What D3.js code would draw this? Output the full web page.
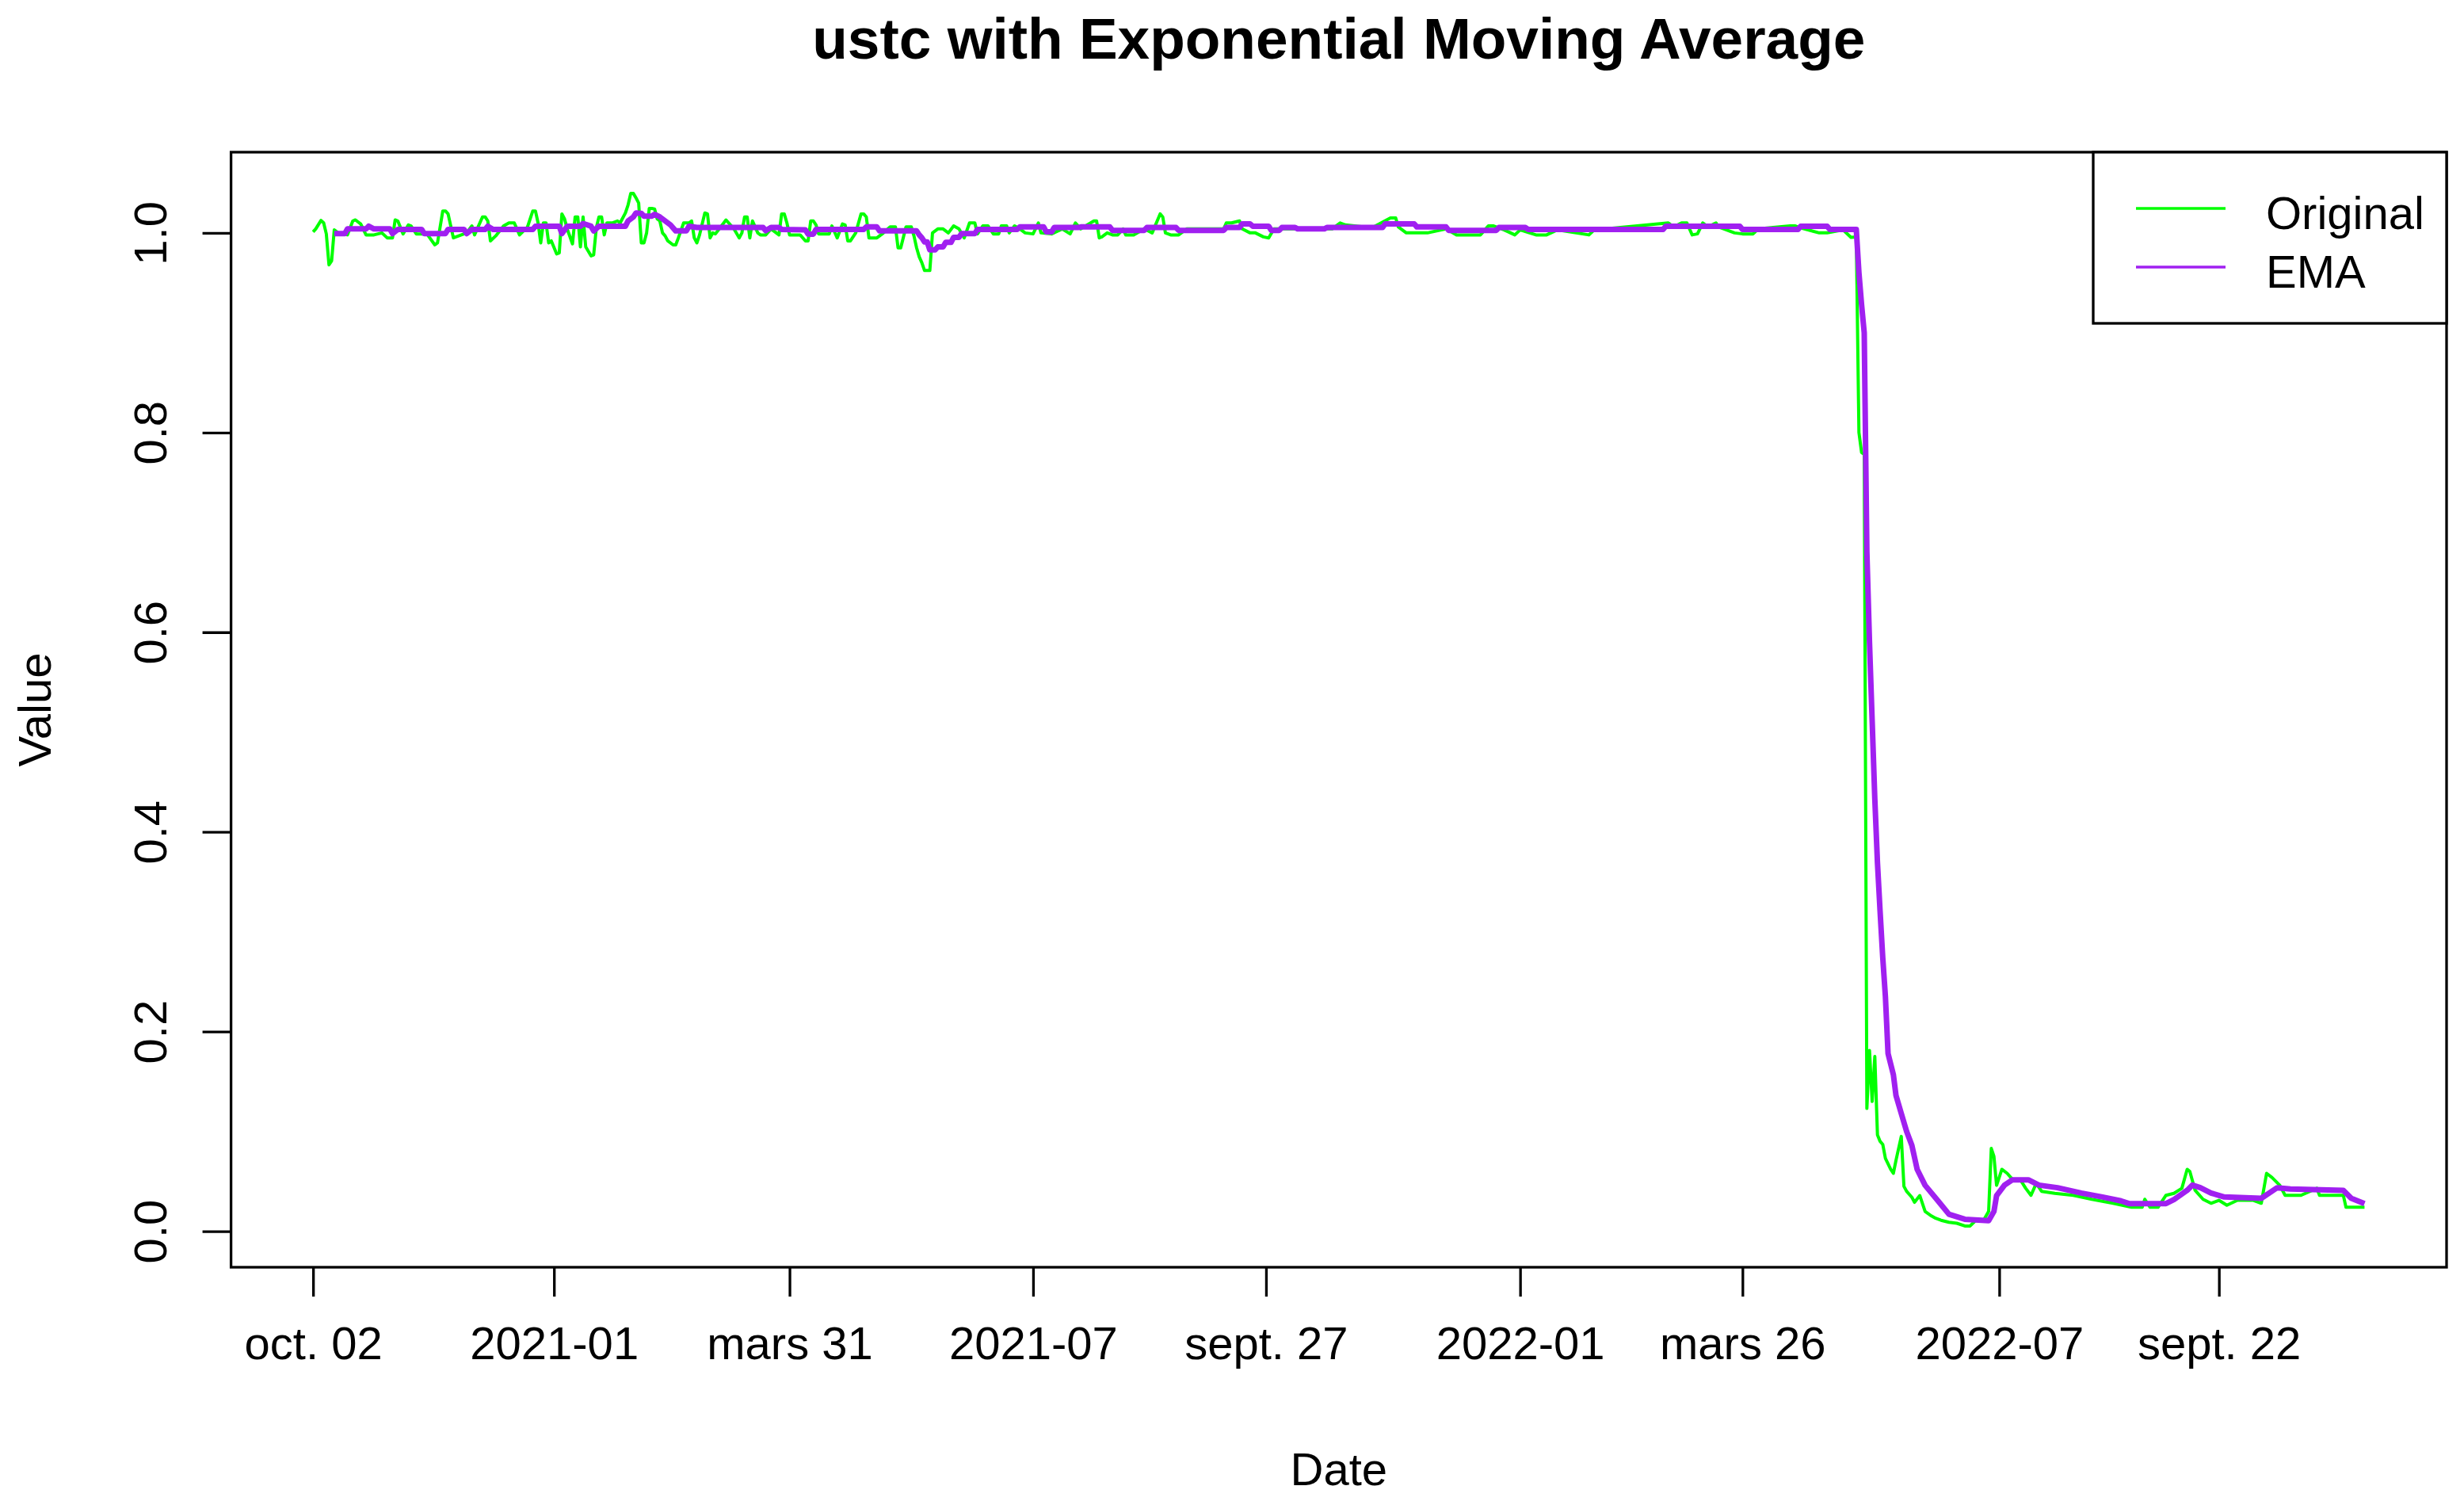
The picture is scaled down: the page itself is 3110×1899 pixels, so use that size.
<!DOCTYPE html>
<html>
<head>
<meta charset="utf-8">
<script src="https://cdn.jsdelivr.net/npm/d3@7"></script>
<style>
body { margin: 0; background: #fff; }
text { font-family: "Liberation Sans", Arial, sans-serif; fill: #000; }
</style>
</head>
<body>
<svg width="3110" height="1899"></svg>
<script>
var svg = d3.select("svg");
var width = +svg.attr("width");
var height = +svg.attr("height");

var startDate = new Date(Date.UTC(2020, 9, 2));

// daily series: day offset from 2020-10-02, value
var origDays = [0, 1, 3, 4, 5, 6, 7, 8, 10, 13, 15, 16, 18, 20, 23, 26, 28, 30, 31, 32, 34, 36, 37, 39, 43, 46, 47, 49, 50, 51, 53, 55, 58, 60, 61, 64, 65, 66, 67, 69, 72, 74, 76, 78, 81, 83, 84, 85, 86, 87, 88, 89, 90, 92, 93, 94, 95, 96, 98, 99, 100, 101, 102, 103, 105, 106, 107, 108, 109, 110, 111, 113, 115, 116, 118, 119, 120, 121, 122, 123, 124, 125, 126, 127, 128, 129, 130, 131, 132, 133, 134, 136, 137, 138, 140, 142, 143, 144, 145, 146, 148, 149, 150, 151, 152, 156, 157, 159, 161, 162, 163, 164, 165, 166, 168, 169, 171, 173, 176, 177, 178, 179, 180, 184, 186, 187, 188, 189, 190, 191, 195, 196, 198, 200, 201, 202, 203, 205, 207, 208, 209, 210, 213, 215, 218, 220, 221, 222, 224, 226, 227, 228, 229, 230, 231, 233, 234, 236, 238, 240, 242, 244, 246, 248, 250, 251, 253, 255, 257, 259, 260, 262, 263, 265, 267, 269, 272, 274, 275, 279, 283, 286, 288, 290, 295, 296, 297, 298, 300, 302, 304, 306, 307, 310, 314, 317, 320, 321, 322, 324, 327, 330, 344, 345, 347, 350, 351, 354, 356, 359, 361, 363, 385, 388, 390, 400, 407, 409, 410, 413, 416, 421, 428, 432, 441, 444, 446, 450, 454, 456, 462, 466, 470, 482, 484, 512, 514, 517, 519, 521, 523, 525, 527, 530, 531, 537, 540, 544, 546, 558, 560, 562, 569, 572, 578, 581, 583, 584, 585, 586, 587, 588, 589, 590, 591, 592, 593, 594, 596, 597, 598, 600, 601, 602, 604, 605, 607, 609, 611, 613, 615, 618, 621, 624, 626, 628, 631, 633, 634, 635, 636, 638, 640, 642, 645, 647, 649, 651, 653, 658, 665, 672, 680, 687, 691, 692, 694, 697, 700, 703, 706, 708, 709, 711, 714, 717, 720, 723, 727, 733, 736, 738, 740, 743, 745, 751, 757, 758, 767, 768, 775];
var origVals = [1.001, 1.004, 1.0125, 1.01, 0.999, 0.968, 0.972, 1.003, 0.999, 0.998, 1.012, 1.013, 1.009, 0.998, 0.998, 1.0, 0.995, 0.995, 1.013, 1.012, 0.999, 1.008, 1.007, 0.999, 0.999, 0.988, 0.99, 1.022, 1.022, 1.019, 0.995, 0.997, 1.0, 1.007, 0.998, 1.016, 1.016, 1.012, 0.992, 0.997, 1.007, 1.01, 1.01, 0.998, 1.006, 1.022, 1.022, 1.01, 0.99, 1.01, 1.01, 0.99, 0.992, 0.979, 0.98, 1.019, 1.014, 1.004, 0.989, 1.016, 1.016, 0.986, 1.016, 0.986, 0.977, 0.978, 1.005, 1.016, 1.016, 0.998, 1.01, 1.01, 1.012, 1.01, 1.02, 1.028, 1.0395, 1.0395, 1.035, 1.03, 0.99, 0.99, 1.0, 1.0245, 1.0245, 1.024, 1.014, 1.012, 1.0, 0.997, 0.992, 0.988, 0.988, 0.995, 1.01, 1.01, 1.012, 0.995, 0.99, 0.998, 1.02, 1.019, 0.995, 1.0, 0.999, 1.013, 1.01, 1.004, 0.995, 1.0, 1.016, 1.016, 0.995, 1.012, 1.0, 0.998, 0.998, 1.004, 0.998, 1.019, 1.019, 1.01, 0.998, 0.998, 0.992, 0.992, 1.012, 1.012, 1.008, 0.999, 0.999, 1.007, 0.995, 1.009, 1.008, 0.992, 0.992, 1.0, 1.019, 1.019, 1.016, 0.995, 0.995, 0.999, 1.006, 1.006, 0.985, 0.985, 1.006, 1.006, 0.997, 0.985, 0.976, 0.97, 0.9623, 0.9623, 1.0, 1.004, 1.004, 1.0, 1.007, 1.004, 0.995, 1.01, 1.01, 0.999, 1.007, 1.007, 0.999, 0.999, 1.007, 1.007, 1.0, 1.007, 1.004, 1.0, 0.999, 1.01, 1.0, 0.999, 1.004, 0.999, 1.01, 1.004, 1.012, 1.012, 0.995, 0.996, 1.0, 0.998, 0.998, 1.004, 0.998, 0.998, 1.004, 1.0, 1.019, 1.016, 1.0, 0.998, 0.998, 1.004, 1.004, 1.01, 1.01, 1.012, 1.004, 1.0, 1.0, 0.996, 0.995, 1.004, 1.004, 1.01, 1.008, 1.005, 1.015, 1.015, 1.006, 1.0, 1.0, 1.0, 1.004, 0.998, 0.998, 1.007, 1.007, 1.003, 0.998, 1.003, 0.998, 0.998, 1.003, 0.998, 1.003, 1.01, 1.006, 1.01, 1.01, 0.998, 0.999, 1.01, 1.006, 1.01, 1.006, 1.0, 0.999, 0.999, 1.004, 1.007, 1.007, 1.005, 1.0, 1.0, 1.003, 0.9955, 0.996, 0.80, 0.78, 0.778, 0.123, 0.181, 0.13, 0.175, 0.0965, 0.09, 0.087, 0.073, 0.062, 0.058, 0.071, 0.095, 0.045, 0.04, 0.034, 0.029, 0.0357, 0.0198, 0.016, 0.013, 0.011, 0.009, 0.008, 0.0053, 0.0053, 0.0106, 0.0106, 0.0198, 0.083, 0.075, 0.046, 0.062, 0.058, 0.052, 0.0515, 0.043, 0.036, 0.048, 0.040, 0.038, 0.036, 0.032, 0.028, 0.024, 0.024, 0.032, 0.024, 0.024, 0.036, 0.038, 0.043, 0.062, 0.06, 0.041, 0.032, 0.028, 0.031, 0.026, 0.031, 0.031, 0.028, 0.058, 0.054, 0.046, 0.036, 0.036, 0.043, 0.036, 0.036, 0.024, 0.024];

var emaDays = [8, 12, 13, 20, 21, 23, 29, 30, 32, 41, 42, 50, 51, 57, 58, 60, 65, 66, 68, 83, 84, 93, 94, 96, 101, 102, 105, 106, 108, 118, 119, 121, 122, 124, 125, 128, 129, 131, 133, 135, 137, 141, 142, 145, 170, 171, 173, 176, 177, 186, 187, 189, 190, 208, 209, 213, 214, 228, 229, 230, 231, 232, 233, 235, 236, 238, 239, 241, 242, 244, 245, 250, 251, 266, 267, 276, 277, 279, 280, 289, 290, 301, 302, 314, 315, 326, 327, 344, 345, 350, 351, 354, 355, 361, 362, 365, 366, 371, 372, 382, 383, 404, 405, 416, 417, 428, 429, 447, 448, 458, 459, 510, 511, 539, 540, 561, 562, 572, 573, 583, 584, 585, 586, 587, 588, 589, 590, 591, 592, 593, 594, 595, 597, 598, 600, 602, 604, 606, 609, 614, 618, 624, 633, 635, 636, 639, 642, 648, 652, 659, 668, 676, 683, 686, 700, 703, 708, 710, 713, 717, 722, 736, 739, 742, 747, 767, 770, 775];
var emaVals = [0.9993, 0.9993, 1.004, 1.004, 1.0067, 1.004, 1.004, 0.9993, 1.0035, 1.0035, 0.9993, 0.9993, 1.0035, 1.0035, 0.9993, 1.0035, 1.0035, 1.0067, 1.0035, 1.0035, 1.0067, 1.0067, 0.9993, 1.0067, 1.0067, 1.0094, 1.0067, 1.002, 1.0067, 1.0067, 1.012, 1.016, 1.020, 1.0195, 1.0168, 1.0168, 1.0186, 1.016, 1.012, 1.008, 1.002, 1.002, 1.0067, 1.0055, 1.0054, 1.0022, 1.0054, 1.0054, 1.0035, 1.003, 0.9988, 0.9988, 1.0035, 1.0035, 1.006, 1.006, 1.002, 1.002, 0.998, 0.995, 0.991, 0.991, 0.983, 0.983, 0.986, 0.986, 0.9905, 0.9905, 0.9956, 0.9956, 0.9993, 0.9993, 1.0035, 1.0035, 1.006, 1.006, 1.001, 1.001, 1.0054, 1.0054, 1.006, 1.006, 1.0025, 1.0025, 1.0054, 1.0054, 1.0025, 1.0025, 1.0054, 1.0054, 1.009, 1.009, 1.0067, 1.0067, 1.0025, 1.0025, 1.0054, 1.0054, 1.004, 1.004, 1.0054, 1.0054, 1.009, 1.009, 1.006, 1.006, 1.0025, 1.0025, 1.0054, 1.0054, 1.0035, 1.0035, 1.0067, 1.0067, 1.0035, 1.0035, 1.0067, 1.0067, 1.0035, 1.0035, 0.96, 0.928, 0.90, 0.68, 0.589, 0.511, 0.433, 0.369, 0.32, 0.274, 0.235, 0.178, 0.157, 0.136, 0.118, 0.10, 0.086, 0.062, 0.046, 0.030, 0.017, 0.012, 0.0106, 0.0198, 0.0357, 0.0462, 0.0515, 0.0515, 0.0462, 0.0436, 0.0383, 0.0343, 0.0304, 0.0277, 0.0277, 0.0317, 0.041, 0.0462, 0.0436, 0.0383, 0.0343, 0.033, 0.0383, 0.0436, 0.0423, 0.041, 0.033, 0.0277];

var tickDates = ["2020-10-02", "2021-01-01", "2021-03-31", "2021-07-01", "2021-09-27", "2022-01-01", "2022-03-26", "2022-07-01", "2022-09-22"];
var tickLabels = ["oct. 02", "2021-01", "mars 31", "2021-07", "sept. 27", "2022-01", "mars 26", "2022-07", "sept. 22"];
var yTicks = [0, 0.2, 0.4, 0.6, 0.8, 1.0];
var seriesNames = ["Original", "EMA"];
var seriesColors = ["#00ff00", "#a020f0"];

var plot = { left: 291.6, right: 3088, top: 192, bottom: 1599 };

function toDate(d) { return d3.utcDay.offset(startDate, d); }

var original = origDays.map(function(d, i) { return { date: toDate(d), value: origVals[i] }; });
var ema = emaDays.map(function(d, i) { return { date: toDate(d), value: emaVals[i] }; });

// R style 4% padding on both axes
var dayExt = d3.extent(origDays);
var dPad = (dayExt[1] - dayExt[0]) * 0.04;
var x = d3.scaleUtc()
    .domain([toDate(dayExt[0] - dPad), toDate(dayExt[1] + dPad)])
    .range([plot.left, plot.right]);

var vExt = d3.extent(origVals.concat(emaVals));
var vPad = (vExt[1] - vExt[0]) * 0.04;
var y = d3.scaleLinear()
    .domain([vExt[0] - vPad, vExt[1] + vPad])
    .range([plot.bottom, plot.top]);

svg.append("rect").attr("width", width).attr("height", height).attr("fill", "#fff");

var line = d3.line()
    .x(function(d) { return x(d.date); })
    .y(function(d) { return y(d.value); });

svg.append("path").datum(original)
    .attr("d", line)
    .attr("fill", "none")
    .attr("stroke", seriesColors[0])
    .attr("stroke-width", 4)
    .attr("stroke-linejoin", "round");

svg.append("path").datum(ema)
    .attr("d", line)
    .attr("fill", "none")
    .attr("stroke", seriesColors[1])
    .attr("stroke-width", 7)
    .attr("stroke-linejoin", "round");

// box
svg.append("rect")
    .attr("x", plot.left).attr("y", plot.top)
    .attr("width", plot.right - plot.left).attr("height", plot.bottom - plot.top)
    .attr("fill", "none").attr("stroke", "#000").attr("stroke-width", 3.3);

// x axis
var xAxis = d3.axisBottom(x)
    .tickValues(tickDates.map(function(s) { return d3.utcParse("%Y-%m-%d")(s); }))
    .tickFormat(function(d, i) { return tickLabels[i]; })
    .tickSizeOuter(0)
    .tickSizeInner(37)
    .tickPadding(38);

var gx = svg.append("g").attr("transform", "translate(0," + plot.bottom + ")").call(xAxis);
gx.select(".domain").remove();
gx.selectAll(".tick line").attr("stroke", "#000").attr("stroke-width", 3.3);
gx.selectAll(".tick text")
    .attr("font-family", "Liberation Sans, Arial, sans-serif")
    .attr("font-size", 58)
    .attr("fill", "#000");

// y axis
var yAxis = d3.axisLeft(y)
    .tickValues(yTicks)
    .tickFormat(d3.format(".1f"))
    .tickSizeOuter(0)
    .tickSizeInner(36);

var gy = svg.append("g").attr("transform", "translate(" + plot.left + ",0)").call(yAxis);
gy.select(".domain").remove();
gy.selectAll(".tick line").attr("stroke", "#000").attr("stroke-width", 3.3);
gy.selectAll(".tick text")
    .attr("font-family", "Liberation Sans, Arial, sans-serif")
    .attr("font-size", 58)
    .attr("fill", "#000")
    .attr("x", null).attr("dy", null)
    .attr("text-anchor", "middle")
    .attr("transform", "translate(" + (210 - plot.left) + ",0) rotate(-90)");

// titles
svg.append("text")
    .attr("x", (plot.left + plot.right) / 2).attr("y", 74)
    .attr("text-anchor", "middle")
    .attr("font-size", 73).attr("font-weight", "bold")
    .text("ustc with Exponential Moving Average");

svg.append("text")
    .attr("x", (plot.left + plot.right) / 2).attr("y", 1874)
    .attr("text-anchor", "middle")
    .attr("font-size", 58)
    .text("Date");

svg.append("text")
    .attr("transform", "translate(64," + (plot.top + plot.bottom) / 2 + ") rotate(-90)")
    .attr("text-anchor", "middle")
    .attr("font-size", 58)
    .text("Value");

// legend
var legend = svg.append("g");
legend.append("rect")
    .attr("x", 2642).attr("y", plot.top)
    .attr("width", plot.right - 2642).attr("height", 408 - plot.top)
    .attr("fill", "#fff").attr("stroke", "#000").attr("stroke-width", 3.3);

var items = legend.selectAll("g.item").data(seriesNames).enter().append("g")
    .attr("transform", function(d, i) { return "translate(0," + (263 + i * 74) + ")"; });
items.append("line")
    .attr("x1", 2696).attr("x2", 2809)
    .attr("stroke", function(d, i) { return seriesColors[i]; })
    .attr("stroke-width", 3.4);
items.append("text")
    .attr("x", 2860).attr("y", 26)
    .attr("font-size", 58)
    .text(function(d) { return d; });
</script>
</body>
</html>
